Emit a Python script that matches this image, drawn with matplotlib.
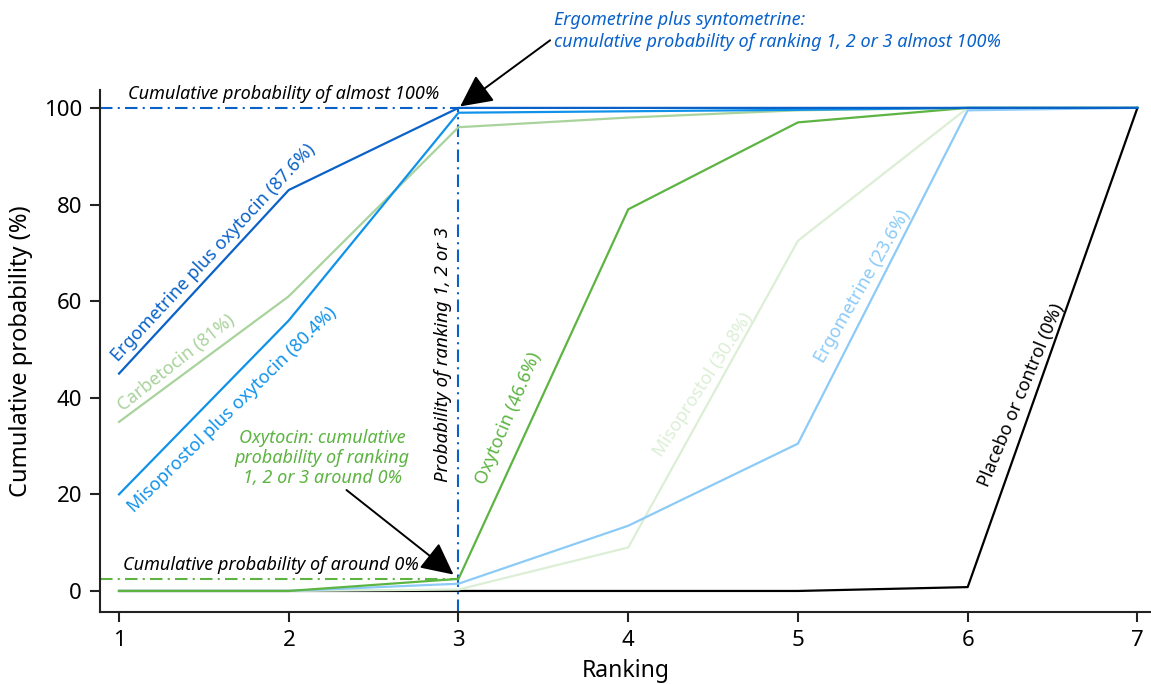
import matplotlib
matplotlib.use('Agg')
import matplotlib.pyplot as plt
from matplotlib import rcParams

rcParams['font.family'] = ['Noto Sans', 'DejaVu Sans']
rcParams['font.size'] = 16

# cumulative probability (%) of each ranking
ranking = [1, 2, 3, 4, 5, 6, 7]
ergo_oxy = [45, 83, 100, 100, 100, 100, 100]
carbetocin = [35, 61, 96, 98, 99.5, 100, 100]
miso_oxy = [20, 56, 99, 99.3, 99.6, 100, 100]
oxytocin = [0, 0, 2.5, 79, 97, 100, 100]
misoprostol = [0, 0, 0.3, 9, 72.5, 100, 100]
ergometrine = [0, 0, 1.5, 13.5, 30.5, 99.5, 100]
placebo = [0, 0, 0, 0, 0, 0.8, 100]

c_dblue = '#0a62c9'
c_blue = '#1192ea'
c_lblue = '#8ccbf7'
c_green = '#5db442'
c_lgreen = '#a9d39c'
c_vlgreen = '#dcefd6'

fig = plt.figure(figsize=(11.51, 6.84), dpi=100)
ax = fig.add_axes([0.0869, 0.1053, 0.9131, 0.7631])

ax.plot(ranking, placebo, color='black', lw=1.6, zorder=2)
ax.plot(ranking, misoprostol, color=c_vlgreen, lw=1.6, zorder=3)
ax.plot(ranking, ergometrine, color=c_lblue, lw=1.6, zorder=3)
ax.plot(ranking, oxytocin, color=c_green, lw=1.6, zorder=4)
ax.plot(ranking, carbetocin, color=c_lgreen, lw=1.6, zorder=4)
ax.plot(ranking, miso_oxy, color=c_blue, lw=1.6, zorder=5)
ax.plot(ranking, ergo_oxy, color=c_dblue, lw=1.6, zorder=6)

ax.set_xlim(0.888, 7.08)
ax.set_ylim(-4.35, 103.7)
ax.set_xticks(ranking)
ax.set_yticks([0, 20, 40, 60, 80, 100])
ax.spines['top'].set_visible(False)
ax.spines['right'].set_visible(False)
for s in ('left', 'bottom'):
    ax.spines[s].set_linewidth(1.5)
    ax.spines[s].set_color('#222222')
ax.tick_params(direction='out', length=7, width=1.5, color='#222222',
               labelsize=16, pad=6)
ax.set_xlabel('Ranking', fontsize=16.5, labelpad=6)
ax.set_ylabel('Cumulative probability (%)', fontsize=17, labelpad=8)

# reference lines
dd = (6, 2.5, 1, 2.5)
ax.plot([0.888, 3], [100, 100], color=c_dblue, lw=1.5, dashes=dd, zorder=1)
ax.plot([3, 3], [-4.35, 100], color=c_dblue, lw=1.5, dashes=dd, zorder=1)
ax.plot([0.888, 3], [2.5, 2.5], color=c_green, lw=1.5, dashes=dd, zorder=1)

ax.text(1.05, 101.0, 'Cumulative probability of almost 100%', fontsize=13,
        style='italic', ha='left', va='bottom')
ax.text(1.025, 5.4, 'Cumulative probability of around 0%', fontsize=13,
        style='italic', ha='left', va='center')
ax.text(2.909, 48.9, 'Probability of ranking 1, 2 or 3', fontsize=13.5,
        style='italic', rotation=90, ha='center', va='center')

ax.text(3.56, 115.9,
        'Ergometrine plus syntometrine:\ncumulative probability of ranking 1, 2 or 3 almost 100%',
        fontsize=13, style='italic', color=c_dblue, ha='left', va='center',
        linespacing=1.25, clip_on=False)
ax.annotate('', xy=(3.01, 100.3), xytext=(3.54, 114),
            annotation_clip=False,
            arrowprops=dict(arrowstyle='-|>,head_length=0.9,head_width=0.45',
                            color='black', lw=1.4, mutation_scale=22,
                            shrinkA=0, shrinkB=0))

ax.text(2.196, 27.5, 'Oxytocin: cumulative\nprobability of ranking\n1, 2 or 3 around 0%',
        fontsize=13, style='italic', color=c_green, ha='center', va='center',
        linespacing=1.15)
ax.annotate('', xy=(2.97, 3.4), xytext=(2.34, 20.9),
            arrowprops=dict(arrowstyle='-|>,head_length=0.9,head_width=0.45',
                            color='black', lw=1.4, mutation_scale=22,
                            shrinkA=0, shrinkB=0))

# labels along the lines
def px(x, y):
    return 1 + (x - 119) / 169.7, (591 - y) / 4.83

labels = [
    ('Ergometrine plus oxytocin (87.6%)', (213, 253), 47, c_dblue),
    ('Carbetocin (81%)', (176, 363), 38.5, c_lgreen),
    ('Misoprostol plus oxytocin (80.4%)', (232, 410), 44.5, c_blue),
    ('Oxytocin (46.6%)', (508, 418), 67, c_green),
    ('Misoprostol (30.8%)', (703, 385), 57, c_vlgreen),
    ('Ergometrine (23.6%)', (862, 287), 60, c_lblue),
    ('Placebo or control (0%)', (1021, 395), 67.5, 'black'),
]
for txt, (x, y), rot, col in labels:
    dx, dy = px(x, y)
    ax.text(dx, dy, txt, rotation=rot, color=col, fontsize=13,
            ha='center', va='center', rotation_mode='anchor')

fig.savefig('out.png', dpi=100)
